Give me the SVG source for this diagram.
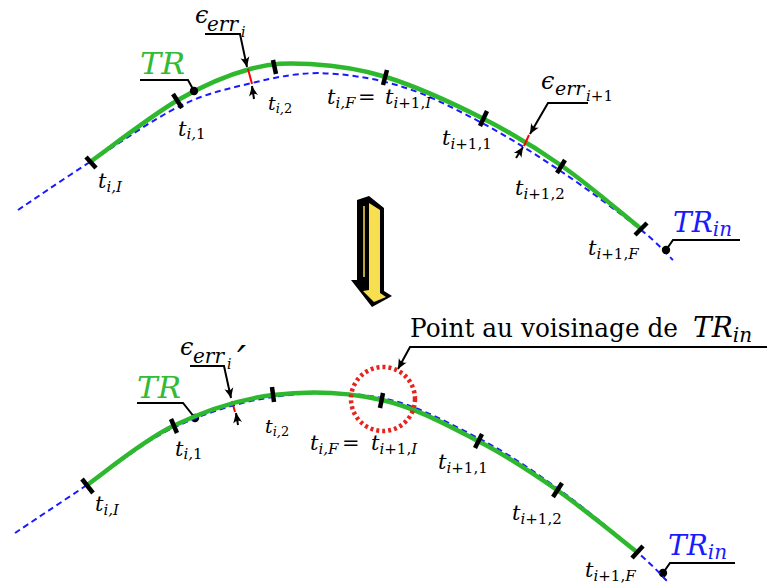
<svg xmlns="http://www.w3.org/2000/svg" width="769" height="586" viewBox="0 0 769 586">
<defs>
<style>
.m{font-style:italic;fill:#000}
.r{font-style:normal}
.blue{fill:none;stroke:#1a1aff;stroke-width:2;stroke-dasharray:6 4}
.green{fill:none;stroke:#2db82d;stroke-width:4.5;stroke-linecap:butt}
.tick{stroke:#000;stroke-width:4.5;stroke-linecap:butt}
.lead{fill:none;stroke:#000;stroke-width:2}
.err{stroke:#ff0000;stroke-width:2}
</style>
<marker id="ah" viewBox="-11 -6 13 12" refX="0" refY="0" markerWidth="13" markerHeight="12" orient="auto" markerUnits="userSpaceOnUse">
<path d="M0,0 L-10,-4.5 Q-6,0 -10,4.5 Z" fill="#000"/>
</marker>
</defs>

<g id="curves-top">
<path class="blue" d="M18,210 C30,202 63,179.3 90,162 C117,144.7 153,119.2 180,106 C207,92.8 229,88.5 252,83 C275,77.5 293.3,73.5 318,73 C342.7,73.5 372.7,77.7 400,86 C427.3,94.3 455,108.7 482,123 C509,137.3 535.7,154.3 562,172 C588.3,189.7 621.5,214.3 640,229 C658.5,243.7 667.5,254.8 673,260"/>
<path class="green" d="M90,162 C104.7,151.7 151.3,115.5 178,100 C204.7,84.5 228,75 250,69 C272,63 287.3,62.7 310,64 C332.7,65.3 357.3,68 386,77 C414.7,86 452.7,103.2 482,118 C511.3,132.8 535.7,147.7 562,166 C588.3,184.3 627,217.7 640,228"/>
</g>

<g id="ticks-top">
<line class="tick" x1="86" y1="157" x2="96" y2="168"/>
<line class="tick" x1="173" y1="94" x2="182" y2="108"/>
<line class="tick" x1="273" y1="60" x2="276" y2="74"/>
<line class="tick" x1="387" y1="70" x2="383" y2="85"/>
<line class="tick" x1="487" y1="111" x2="480" y2="126"/>
<line class="tick" x1="565" y1="160" x2="557" y2="173"/>
<line class="tick" x1="647" y1="223" x2="635" y2="235"/>
</g>

<g id="connectors">
<line class="err" x1="248" y1="69" x2="252" y2="84"/>
<line class="err" x1="529" y1="135" x2="524" y2="146"/>
<line class="err" x1="232" y1="401" x2="235" y2="412"/>
<polyline class="lead" points="140,80 188,80 194,91"/>
<polyline class="lead" points="666,250 673,240 740,240"/>
<polyline class="lead" points="137,403 183,403 195,418"/>
<polyline class="lead" points="663,573 670,563 735,563"/>
<path class="lead" d="M205,34 L240,34 L247,67" marker-end="url(#ah)"/>
<path class="lead" d="M254,99 L252,86" marker-end="url(#ah)"/>
<path class="lead" d="M588,103 L548,103 L530,134" marker-end="url(#ah)"/>
<path class="lead" d="M516,158 L523,147" marker-end="url(#ah)"/>
<path class="lead" d="M190,366 L224,366 L231,398" marker-end="url(#ah)"/>
<path class="lead" d="M238,425 L236,413" marker-end="url(#ah)"/>
<path class="lead" d="M767,347 L410,347 L398,369" marker-end="url(#ah)"/>
</g>

<g id="dots">
<circle cx="194" cy="91" r="4.2" fill="#000"/>
<circle cx="666" cy="250" r="4.2" fill="#000"/>
<circle cx="195" cy="418" r="4.2" fill="#000"/>
<circle cx="663" cy="573" r="4.2" fill="#000"/>
</g>

<g id="labels-top" font-family="'DejaVu Serif', serif">
<text class="m" x="98" y="188" font-size="21">t<tspan font-size="15" dy="4">i,I</tspan></text>
<text class="m" x="178" y="136" font-size="21">t<tspan font-size="15" dy="3">i,<tspan class="r">1</tspan></tspan></text>
<text class="m" x="268" y="110" font-size="19">t<tspan font-size="13" dy="3">i,<tspan class="r">2</tspan></tspan></text>
<text class="m" x="327" y="104" font-size="21">t<tspan font-size="15" dy="4">i,F</tspan><tspan class="r" x="358" dy="-4">=</tspan><tspan x="385">t</tspan><tspan font-size="15" dy="4">i<tspan class="r">+1,</tspan>I</tspan></text>
<text class="m" x="442" y="145" font-size="21">t<tspan font-size="15" dy="4">i<tspan class="r">+1,1</tspan></tspan></text>
<text class="m" x="515" y="195" font-size="21">t<tspan font-size="15" dy="4">i<tspan class="r">+1,2</tspan></tspan></text>
<text class="m" x="588" y="255" font-size="21">t<tspan font-size="15" dy="4">i<tspan class="r">+1,</tspan>F</tspan></text>
<text class="m" x="140" y="74" font-size="30" style="fill:#33bb33" textLength="45" lengthAdjust="spacingAndGlyphs">TR</text>
<text class="m" x="673" y="232" font-size="28" style="fill:#1a1aff">TR<tspan font-size="20" dy="4">in</tspan></text>
<text class="m" x="195" y="23" font-size="24">ϵ<tspan x="207" dy="8" font-size="20">err</tspan><tspan x="241" dy="6" font-size="14">i</tspan></text>
<text class="m" x="541" y="89" font-size="24">ϵ<tspan x="555" dy="6" font-size="19">err</tspan><tspan x="586" dy="6" font-size="15">i<tspan class="r">+1</tspan></tspan></text>
</g>

<g id="big-arrow">
<polygon points="357,200 369,196 384,208 384,291 392,296 372,307 351,280 357,280" fill="#000"/>
<polygon points="369,203 380,210 380,293 386,297 374,302 363,291 369,290" fill="#f7df4f"/>
<line x1="364" y1="206" x2="364" y2="277" stroke="#f7df4f" stroke-width="1.5"/>
</g>

<g id="curves-bottom">
<path class="blue" d="M15,533 C27,525 60.7,502.5 87,485 C113.3,467.5 142,442.7 173,428 C204,413.3 238.2,402 273,397 C307.8,392 347.8,391.2 382,398 C416.2,404.8 448.8,423 478,438 C507.2,453 530.5,469 557,488 C583.5,507 618.5,536.3 637,552 C655.5,567.7 662.8,577 668,582"/>
<path class="green" d="M87,485 C101.3,475.2 142,441 173,426 C204,411 238.2,399.3 273,395 C307.8,390.7 347.8,392.3 382,400 C416.2,407.7 448.8,426 478,441 C507.2,456 530.5,471.5 557,490 C583.5,508.5 623.7,541.7 637,552"/>
</g>

<g id="ticks-bottom">
<line class="tick" x1="82" y1="479" x2="93" y2="493"/>
<line class="tick" x1="171" y1="419" x2="177" y2="433"/>
<line class="tick" x1="272" y1="387" x2="274" y2="402"/>
<line class="tick" x1="383" y1="393" x2="380" y2="408"/>
<line class="tick" x1="482" y1="434" x2="475" y2="448"/>
<line class="tick" x1="562" y1="483" x2="553" y2="497"/>
<line class="tick" x1="643" y1="546" x2="632" y2="558"/>
</g>

<g id="neighbourhood">
<circle cx="383" cy="399" r="32" fill="none" stroke="#e8231d" stroke-width="4.5" stroke-dasharray="3 3"/>
</g>

<g id="labels-bottom" font-family="'DejaVu Serif', serif">
<text class="m" x="95" y="511" font-size="21">t<tspan font-size="15" dy="4">i,I</tspan></text>
<text class="m" x="175" y="456" font-size="21">t<tspan font-size="15" dy="3">i,<tspan class="r">1</tspan></tspan></text>
<text class="m" x="265" y="433" font-size="19">t<tspan font-size="13" dy="3">i,<tspan class="r">2</tspan></tspan></text>
<text class="m" x="310" y="450" font-size="21">t<tspan font-size="15" dy="4">i,F</tspan><tspan class="r" x="342" dy="-4">=</tspan><tspan x="371">t</tspan><tspan font-size="15" dy="4">i<tspan class="r">+1,</tspan>I</tspan></text>
<text class="m" x="438" y="469" font-size="21">t<tspan font-size="15" dy="4">i<tspan class="r">+1,1</tspan></tspan></text>
<text class="m" x="512" y="520" font-size="21">t<tspan font-size="15" dy="4">i<tspan class="r">+1,2</tspan></tspan></text>
<text class="m" x="585" y="577" font-size="21">t<tspan font-size="15" dy="4">i<tspan class="r">+1,</tspan>F</tspan></text>
<text class="m" x="137" y="398" font-size="30" style="fill:#33bb33" textLength="44" lengthAdjust="spacingAndGlyphs">TR</text>
<text class="m" x="668" y="555" font-size="28" style="fill:#1a1aff">TR<tspan font-size="20" dy="4">in</tspan></text>
<text class="m" x="180" y="355" font-size="24">ϵ<tspan x="193" dy="8" font-size="20">err</tspan><tspan x="227" dy="6" font-size="14">i</tspan><tspan x="237" y="374" font-size="40">′</tspan></text>
<text x="410" y="337" font-size="26" textLength="268" lengthAdjust="spacingAndGlyphs">Point au voisinage de</text>
<text class="m" x="693" y="337" font-size="28">TR<tspan font-size="20" dy="5">in</tspan></text>
</g>
</svg>
